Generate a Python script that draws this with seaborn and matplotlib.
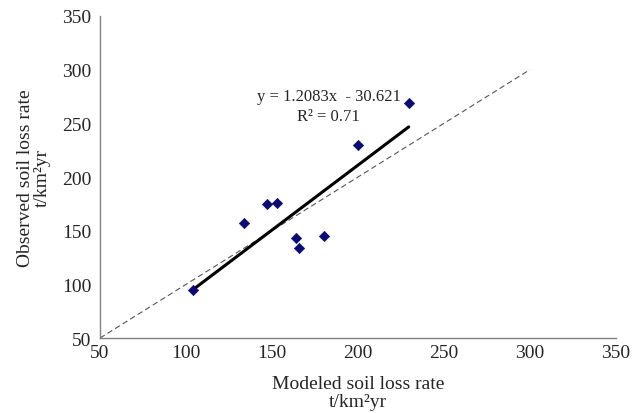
import numpy as np
import pandas as pd
import matplotlib.pyplot as plt
import seaborn as sns

sns.set_style("white")
plt.rcParams["font.family"] = ["Liberation Serif", "DejaVu Serif"]

# values
modeled = [104, 133.5, 147, 153, 164, 165.5, 180, 200, 229.5]
observed = [94.5, 157, 174.5, 176, 143.5, 134, 145, 230, 268.5]
slope, intercept = 1.2083, -30.621
one_to_one = [50, 300]

df = pd.DataFrame({"modeled": modeled, "observed": observed})
fit_x = [min(modeled), max(modeled)]
fit_df = pd.DataFrame({"x": fit_x, "y": [slope * v + intercept for v in fit_x]})
ref_df = pd.DataFrame({"x": one_to_one, "y": one_to_one})

fig = plt.figure(figsize=(6.33, 4.14), dpi=100)
ax = fig.add_axes([0.158, 0.181, 0.815, 0.778])

sns.lineplot(data=ref_df, x="x", y="y", ax=ax, color="#555555", linestyle=(0, (5, 3)),
             linewidth=0.8)
sns.lineplot(data=fit_df, x="x", y="y", ax=ax, color="black", linewidth=2.2)
sns.scatterplot(data=df, x="modeled", y="observed", ax=ax, marker="D", color="#0a0a70",
                s=28, edgecolor="#0a0a70", zorder=5)

ax.text(183, 275, "y = 1.2083x  - 30.621", ha="center", va="center", fontsize=12)
ax.text(183, 256.5, "R² = 0.71", ha="center", va="center", fontsize=12)

ax.set_xlim(50, 350)
ax.set_ylim(50, 350)
ax.set_xticks(range(50, 351, 50))
ax.set_yticks(range(50, 351, 50))
ax.tick_params(axis="x", direction="in", length=4, color="#808080", labelsize=14, pad=4)
ax.tick_params(axis="y", direction="out", length=4, color="#808080", labelsize=14, pad=2)
for side in ["top", "right"]:
    ax.spines[side].set_visible(False)
for side in ["left", "bottom"]:
    ax.spines[side].set_color("#808080")
    ax.spines[side].set_linewidth(1.0)

ax.set_xlabel("Modeled soil loss rate\nt/km²yr", fontsize=14, linespacing=1.1, labelpad=10)
ax.set_ylabel("Observed soil loss rate\nt/km²yr", fontsize=14, linespacing=1.05, labelpad=8)

plt.savefig("out.png", dpi=100)
